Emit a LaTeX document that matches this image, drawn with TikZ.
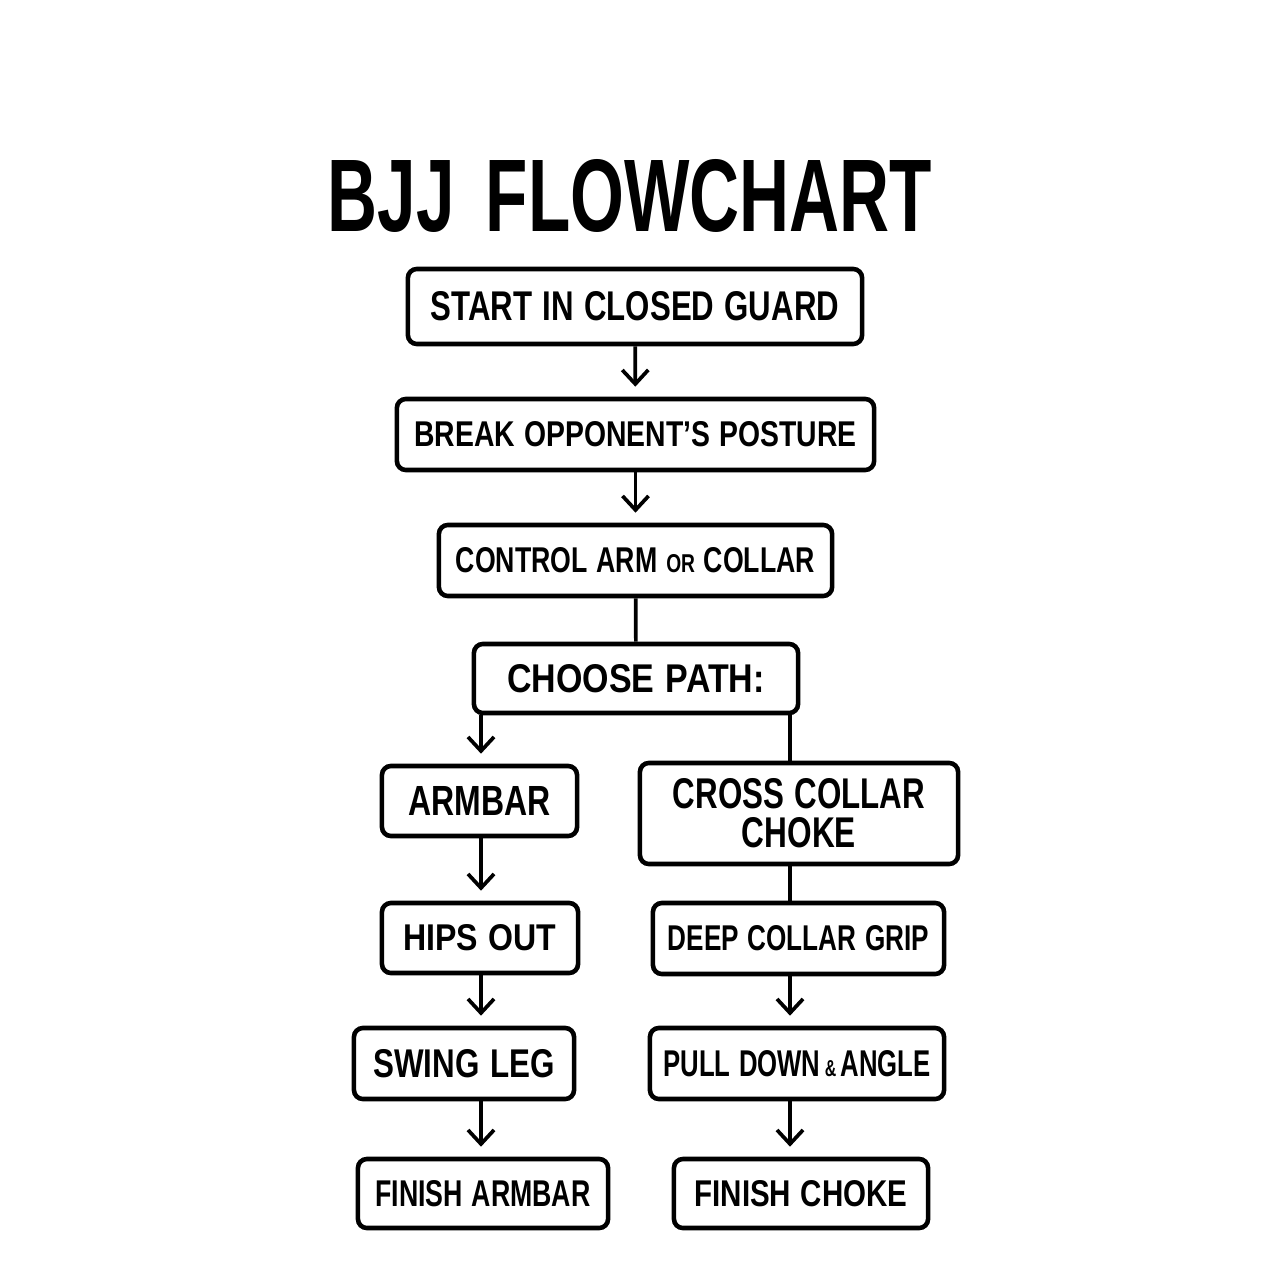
\documentclass[tikz,border=0pt]{standalone}
\usepackage{fontspec}
\setmainfont{Liberation Sans}
\usepackage{graphicx}
\usetikzlibrary{arrows.meta}

% squeeze a label to the width and cap height it has in the chart
\newcommand{\fitlabel}[3]{\resizebox{#1}{#2}{\bfseries\spaceskip=0.33em #3}}

\begin{document}
\begin{tikzpicture}[x=0.01cm, y=-0.01cm,
    stepbox/.style 2 args={draw, line width=1.3pt, rounded corners=0.9mm, inner sep=0pt, minimum width=#1, minimum height=#2, align=center},
    flow/.style={line width=1.05pt},
    arr/.style={flow, -{Straight Barb[length=1.4mm, width=2.6mm]}, shorten >=1mm}]
    % Fix the page to the reference size
    \useasboundingbox (0,0) rectangle (1272,1280);

    % Title
    \node (title) at (630,196) {\fitlabel{6.04cm}{0.72cm}{\spaceskip=0.45em BJJ FLOWCHART}};

    % Main column
    \node[stepbox={4.54cm}{0.75cm}] (start) at (635,306.5) {\fitlabel{4.08cm}{0.29cm}{START IN CLOSED GUARD}};
    \node[stepbox={4.77cm}{0.71cm}] (break) at (635.5,434.5) {\fitlabel{4.42cm}{0.25cm}{BREAK OPPONENT’S POSTURE}};
    \node[stepbox={3.93cm}{0.71cm}] (control) at (635.5,560.5) {\fitlabel{3.59cm}{0.25cm}{CONTROL ARM \scalebox{0.72}{OR} COLLAR}};
    \node[stepbox={3.24cm}{0.69cm}] (choose) at (636,678.5) {\fitlabel{2.57cm}{0.28cm}{CHOOSE PATH:}};

    % Armbar path
    \node[stepbox={1.95cm}{0.70cm}] (armbar) at (479.5,801) {\fitlabel{1.42cm}{0.29cm}{ARMBAR}};
    \node[stepbox={1.96cm}{0.70cm}] (hips) at (480,938) {\fitlabel{1.53cm}{0.26cm}{HIPS OUT}};
    \node[stepbox={2.20cm}{0.71cm}] (swing) at (464,1063.5) {\fitlabel{1.81cm}{0.28cm}{SWING LEG}};
    \node[stepbox={2.50cm}{0.69cm}] (finarm) at (483,1193.5) {\fitlabel{2.15cm}{0.26cm}{FINISH ARMBAR}};

    % Choke path
    \node[stepbox={3.18cm}{1.01cm}, font=\fontsize{10}{11.1}\selectfont] (cross) at (799,813.5) {\fitlabel{2.52cm}{0.30cm}{CROSS COLLAR}\\\fitlabel{1.14cm}{0.30cm}{CHOKE}};
    \node[stepbox={2.91cm}{0.71cm}] (deep) at (798.5,938.5) {\fitlabel{2.61cm}{0.25cm}{DEEP COLLAR GRIP}};
    \node[stepbox={2.94cm}{0.71cm}] (pull) at (797,1063.5) {\fitlabel{2.67cm}{0.26cm}{PULL DOWN\,\scalebox{0.62}{\&}\,ANGLE}};
    \node[stepbox={2.54cm}{0.69cm}] (finchoke) at (801,1193.5) {\fitlabel{2.13cm}{0.26cm}{FINISH CHOKE}};

    % Columns the branches run down
    \coordinate (lx) at (481,0);
    \coordinate (rx) at (790,0);

    % Connectors
    \draw[arr] (start) -- (break);
    \draw[arr] (break) -- (control);
    \draw[flow] (control) -- (choose);
    \draw[arr] (choose.south -| lx) -- (armbar.north -| lx);
    \draw[flow] (choose.south -| rx) -- (cross.north -| rx);
    \draw[arr] (armbar.south -| lx) -- (hips.north -| lx);
    \draw[flow] (cross.south -| rx) -- (deep.north -| rx);
    \draw[arr] (hips.south -| lx) -- (swing.north -| lx);
    \draw[arr] (deep.south -| rx) -- (pull.north -| rx);
    \draw[arr] (swing.south -| lx) -- (finarm.north -| lx);
    \draw[arr] (pull.south -| rx) -- (finchoke.north -| rx);
\end{tikzpicture}
\end{document}
